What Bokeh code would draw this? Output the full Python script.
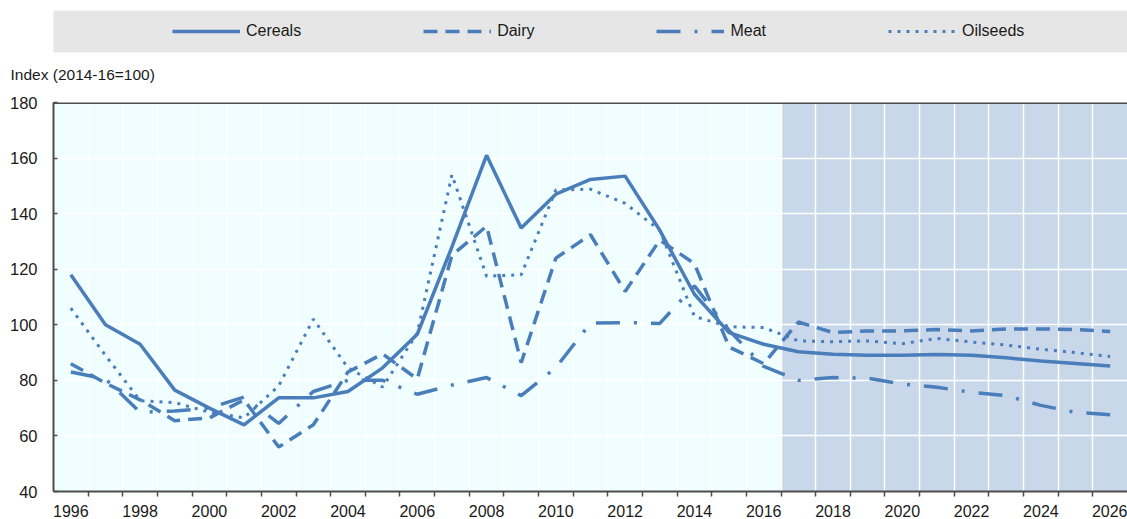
from bokeh.plotting import figure
from bokeh.models import Range1d, FixedTicker, BoxAnnotation, Legend, LegendItem, Span, Label
from bokeh.layouts import column
from bokeh.embed import file_html
from bokeh.resources import INLINE

# ---------------- data ----------------
years = list(range(1996, 2027))
cereals = [118, 100, 93, 76.5, 70, 64, 73.7, 73.7, 76, 84.5, 96.6, 128, 161, 134.8, 147, 152.3,
           153.5, 134, 111, 97.2, 93, 90.3, 89.4, 89, 89, 89.3, 89, 88.1, 87, 86.1, 85.2]
dairy = [86, 79, 73, 65.5, 66.5, 73, 56, 64, 83, 89.5, 80.5, 125, 135.5, 86.4, 124, 132.4,
         112, 130.5, 122, 92, 86, 101, 97.2, 97.8, 97.8, 98.3, 97.8, 98.5, 98.5, 98.3, 97.6]
meat = [83, 80.5, 68.5, 69, 70, 74, 64.5, 76, 80, 80, 75, 78.3, 81, 74.5, 84.6, 100.6,
        100.8, 100.5, 114, 98, 85, 80, 81, 80.8, 78.7, 77.5, 75.7, 74.5, 71, 68.5, 67.6]
oilseeds = [106, 89, 72.7, 72, 68.5, 66.5, 78, 102, 84.5, 77.6, 97, 154, 117.5, 118, 148.5, 148.8,
            143.7, 134, 103, 99.3, 99, 94.2, 93.9, 94.2, 93.2, 95.1, 93.8, 92.7, 91.2, 90, 88.6]
series_names = ["Cereals", "Dairy", "Meat", "Oilseeds"]
series_values = [cereals, dairy, meat, oilseeds]
label_years = list(range(1996, 2027, 2))
y_ticks = [40, 60, 80, 100, 120, 140, 160, 180]
forecast_start = 2016.5
y_title = "Index (2014-16=100)"

# ---------------- style ----------------
FONT = "Liberation Sans"
BLUE = "#4A7EBB"
DARK = "#4D4D4D"
TXT = "#1A1A1A"
styles = {
    "Cereals": dict(line_dash="solid", line_width=3.5),
    "Dairy": dict(line_dash="14 8", line_width=3.5),
    "Meat": dict(line_dash="24 14 3 14", line_width=3.5),
    "Oilseeds": dict(line_dash="3 6", line_width=3),
}

W = 1127
HEAD_H = 92          # header strip: legend band + unit title

# ---------------- header strip (legend band + unit title) ----------------
# pixel-like coordinate system for the header: x 0..W, y 0..(HEAD_H-10)
lf = figure(width=W, height=HEAD_H, x_range=Range1d(0, W), y_range=Range1d(0, HEAD_H - 10),
            x_axis_type=None, y_axis_type=None,
            output_backend="svg", toolbar_location=None,
            min_border_left=0, min_border_right=0, min_border_top=10, min_border_bottom=0)
lf.frame_align = False
lf.background_fill_color = "white"
lf.border_fill_color = "white"
lf.outline_line_color = None
lf.grid.visible = False
lf.add_layout(BoxAnnotation(left=53, right=W, bottom=40, top=HEAD_H - 10,
                            fill_color="#E6E6E6", fill_alpha=1, line_color=None, level="image"))
items = []
for name in series_names:
    # off-range placeholder renderer, only used to draw the legend sample
    r = lf.line(x=[-50, -40], y=[-50, -50], line_color=BLUE, **styles[name])
    items.append(LegendItem(label=name, renderers=[r]))
leg = Legend(items=items, orientation="horizontal", location=(172, 51),
             glyph_width=68, glyph_height=20, label_height=20, label_standoff=6, spacing=122,
             padding=0, margin=0, background_fill_alpha=0, border_line_color=None,
             label_text_font=FONT, label_text_font_size="16px", label_text_color=TXT)
lf.add_layout(leg, "center")
lf.add_layout(Label(x=10, y=18, text=y_title, text_font=FONT, text_font_size="15.5px",
                    text_color=TXT, text_baseline="middle", text_align="left"))

# ---------------- main chart ----------------
p = figure(width=W, height=519 - HEAD_H, x_range=Range1d(1995.5, 2026.5), y_range=Range1d(40, 180),
           output_backend="svg", toolbar_location=None,
           min_border_left=53, min_border_right=0, min_border_top=10, min_border_bottom=26)
p.frame_align = False

p.background_fill_color = "#F0FEFF"
p.border_fill_color = "white"
p.outline_line_color = None

p.add_layout(BoxAnnotation(left=forecast_start, fill_color="#C9D7EA", fill_alpha=1,
                           line_color=None, level="image"))

half_years = [y + 0.5 for y in years[:-1]]
p.xgrid.ticker = FixedTicker(ticks=half_years)
p.xgrid.grid_line_color = "white"
p.xgrid.grid_line_width = 1.5
p.ygrid.ticker = FixedTicker(ticks=y_ticks)
p.ygrid.grid_line_color = "white"
p.ygrid.grid_line_width = 1.5

for name, vals in zip(series_names, series_values):
    p.line(years, vals, line_color=BLUE, **styles[name])

p.add_layout(Span(location=180, dimension="width", line_color=DARK, line_width=3))

xa = p.xaxis[0]
xa.ticker = FixedTicker(ticks=label_years, minor_ticks=half_years)
xa.major_tick_out = 0
xa.major_tick_in = 0
xa.minor_tick_out = 5
xa.minor_tick_in = 0
xa.minor_tick_line_color = DARK
xa.minor_tick_line_width = 1.5
xa.axis_line_color = DARK
xa.axis_line_width = 2
xa.major_label_standoff = 8
xa.major_label_text_font = FONT
xa.major_label_text_font_size = "16px"
xa.major_label_text_color = TXT

ya = p.yaxis[0]
ya.ticker = FixedTicker(ticks=y_ticks)
ya.major_tick_in = 4
ya.major_tick_out = 0
ya.minor_tick_in = 0
ya.minor_tick_out = 0
ya.major_tick_line_color = DARK
ya.major_tick_line_width = 1.5
ya.axis_line_color = DARK
ya.axis_line_width = 2
ya.major_label_standoff = 16
ya.major_label_text_font = FONT
ya.major_label_text_font_size = "16.5px"
ya.major_label_text_color = TXT

layout = column(lf, p, spacing=0)
open("out.html", "w").write(file_html(layout, INLINE))
